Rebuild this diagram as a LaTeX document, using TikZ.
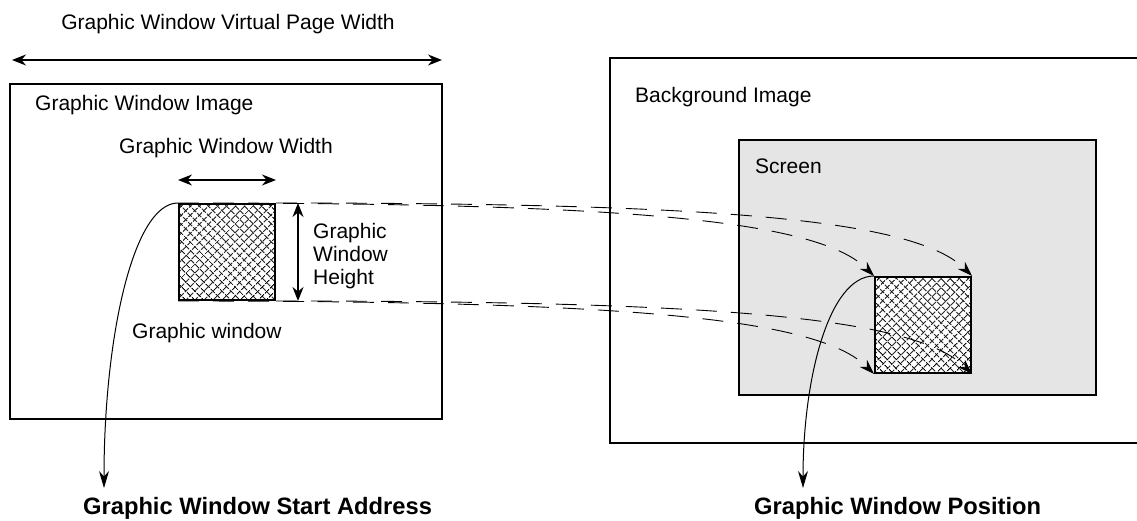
\documentclass[tikz,border=0pt]{standalone}
\usepackage{fontspec}
\setmainfont{Liberation Sans}
\usetikzlibrary{arrows.meta, patterns.meta, calc, positioning}

\tikzset{
  frame/.style={draw, line width=2pt},
  hatchbox/.style={draw, line width=2pt, minimum size=96pt, inner sep=0pt, anchor=north west,
    preaction={fill=white},
    preaction={pattern={Lines[angle=45, distance=6.4pt, line width=1.2pt]}},
    preaction={pattern={Lines[angle=-45, distance=6.4pt, line width=1.2pt]}}},
  dimarrow/.style={{Stealth[length=14pt, width=11pt]}-{Stealth[length=14pt, width=11pt]}, line width=1.6pt},
  projline/.style={-{Stealth[length=15pt, width=10pt]}, line width=0.9pt, dash pattern=on 21pt off 14pt},
  leadline/.style={-{Stealth[length=17pt, width=10pt]}, line width=1pt},
  lbl/.style={font=\fontsize{21}{23}\selectfont, inner sep=0pt},
  biglbl/.style={font=\fontsize{23.7}{26}\selectfont\bfseries, inner sep=0pt}
}

\begin{document}
\begin{tikzpicture}[x=1pt, y=-1pt]
    \useasboundingbox (0,0) rectangle (1137,521);
    \clip (0,0) rectangle (1137,521);

    % Virtual page width
    \coordinate (vpl) at (12,60);
    \coordinate (vpr) at (442,60);
    \draw[dimarrow] (vpl) -- (vpr);
    \node[lbl] (vptext) at (228,24) {Graphic Window Virtual Page Width};

    % Graphic window image (left)
    \draw[frame] (10,84) rectangle (442,419);
    \node[lbl, anchor=west] (gwimg) at (35,105) {Graphic Window Image};

    % Background image and screen (right)
    \draw[frame] (610,58) rectangle (1160,443);
    \node[lbl, anchor=west] (bgimg) at (635,97) {Background Image};
    \draw[frame, fill=gray!20] (739,140) rectangle (1096,395);
    \node[lbl, anchor=west] (scr) at (755,166) {Screen};

    % Graphic window in the image and on the screen
    \node[hatchbox] (gw) at (178,203) {};
    \node[hatchbox] (gp) at (874,276) {};

    % Width and height of the graphic window
    \draw[dimarrow] ([yshift=23pt]gw.north west) -- ([yshift=23pt]gw.north east);
    \node[lbl] (gwwtext) at (226,148) {Graphic Window Width};
    \draw[dimarrow] ([xshift=22pt]gw.north east) -- ([xshift=22pt]gw.south east);
    \node[lbl, align=left, anchor=west] (gwhtext) at (313,256) {Graphic\\Window\\Height};
    \node[lbl, anchor=west] (gwtext) at (132,333) {Graphic window};

    % Mapping onto the screen
    \draw[projline] (gw.north west) .. controls +(450,0) and +(-56,-56) .. (gp.north west);
    \draw[projline] (gw.north east) .. controls +(450,0) and +(-56,-56) .. (gp.north east);
    \draw[projline] (gw.south west) .. controls +(450,0) and +(-56,-56) .. (gp.south west);
    \draw[projline] (gw.south east) .. controls +(450,0) and +(-56,-56) .. (gp.south east);

    % Start address and position
    \coordinate (sa) at (104,488);
    \coordinate (pa) at (803,488);
    \draw[leadline] (gw.north west) .. controls +(-45,0) and +(0,-150) .. (sa);
    \draw[leadline] (gp.north west) .. controls +(-45,0) and +(0,-110) .. (pa);
    \node[biglbl, anchor=north west] (satext) at (83,497) {Graphic Window Start Address};
    \node[biglbl, anchor=north west] (patext) at (754,497) {Graphic Window Position};
\end{tikzpicture}
\end{document}
